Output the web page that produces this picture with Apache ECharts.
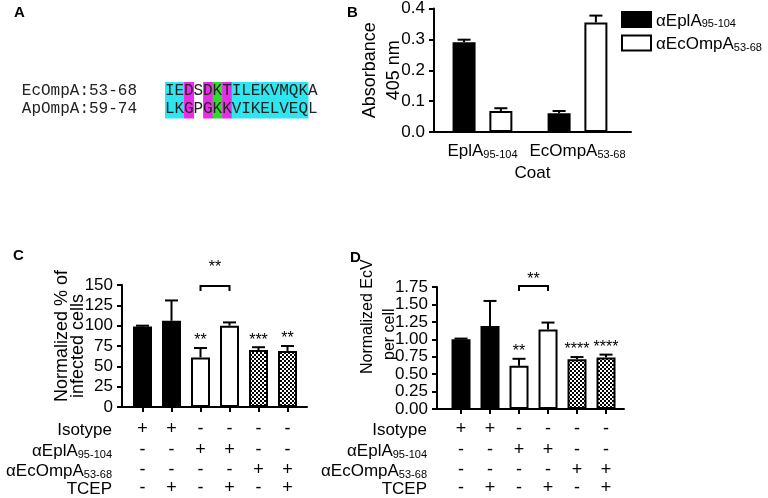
<!DOCTYPE html>
<html>
<head>
<meta charset="utf-8">
<script src="https://cdn.jsdelivr.net/npm/echarts@6/dist/echarts.min.js"></script>
<style>
  html, body { margin: 0; padding: 0; background: #fff; }
  #main { width: 768px; height: 498px; }
</style>
</head>
<body>
<div id="main"></div>
<script>
// A - peptide alignment
const seqNames = ['EcOmpA:53-68', 'ApOmpA:59-74'];
const seqs = ['IEDSDKTILEKVMQKA', 'LKGPGKKVIKELVEQL'];
const seqMarks = ['c', 'c', 'm', '', 'm', 'g', 'm', 'c', 'c', 'c', 'c', 'c', 'c', 'c', 'c', ''];

// B - ELISA, absorbance 405 nm
const coatLabels = [['EplA', '95-104'], ['EcOmpA', '53-68']];
const abNames = ['αEplA95-104', 'αEcOmpA53-68'];
const absEplA = [0.291, 0.061];
const absEplAErr = [0.008, 0.007];
const absEcOmpA = [0.068, 0.355];
const absEcOmpAErr = [0.009, 0.022];

// C, D - six conditions
const rowNames = [['Isotype', ''], ['αEplA', '95-104'], ['αEcOmpA', '53-68'], ['TCEP', '']];
const isotype = ['+', '+', '-', '-', '-', '-'];
const antiEplA = ['-', '-', '+', '+', '-', '-'];
const antiEcOmpA = ['-', '-', '-', '-', '+', '+'];
const tcep = ['-', '+', '-', '+', '-', '+'];
const fills = ['black', 'black', 'white', 'white', 'check', 'check'];

const infected = [99, 106, 61, 100, 70, 69];
const infectedErr = [1, 25, 11.5, 4, 3.5, 6];
const infectedStars = ['', '', '**', '', '***', '**'];
const infectedBracket = [2, 3, 148.8, 171.5, '**'];

const ecv = [1.0, 1.19, 0.62, 1.14, 0.715, 0.74];
const ecvErr = [0.01, 0.36, 0.1, 0.1, 0.03, 0.04];
const ecvStars = ['', '', '**', '', '****', '****'];
const ecvBracket = [2, 3, 1.765, 1.858, '**'];

const FONT = '"Liberation Sans", Arial, Helvetica, sans-serif';
const MONO = '"Liberation Mono", "DejaVu Sans Mono", monospace';

// checker pattern for the peptide-only bars
const pc = document.createElement('canvas');
pc.width = 4; pc.height = 4;
const pctx = pc.getContext('2d');
pctx.fillStyle = '#fff'; pctx.fillRect(0, 0, 4, 4);
pctx.fillStyle = '#000'; pctx.fillRect(0, 0, 2, 2); pctx.fillRect(2, 2, 2, 2);

const fillStyles = {
  black: { color: '#000', borderColor: '#000', borderWidth: 2 },
  white: { color: '#fff', borderColor: '#000', borderWidth: 2 },
  check: { color: { image: pc, repeat: 'repeat' }, borderColor: '#000', borderWidth: 2 }
};
const markColors = { c: '#2ee6f0', m: '#ec2aec', g: '#2ade2a' };

const rich = {
  m: { fontSize: 17, fontFamily: FONT, color: '#000', lineHeight: 20, verticalAlign: 'bottom' },
  s: { fontSize: 11, fontFamily: FONT, color: '#000', lineHeight: 10, verticalAlign: 'bottom' }
};
function sub(pair) {
  return '{m|' + pair[0] + '}' + (pair[1] ? '{s|' + pair[1] + '}' : '');
}

const idx = [0, 1, 2, 3, 4, 5];
const black = { color: '#000', width: 2 };

function errBars(stars, dx) {
  return function (params, api) {
    const base = api.coord([api.value(0), api.value(1)]);
    const top = api.coord([api.value(0), api.value(2)]);
    const x = base[0] + dx;
    const ch = [
      { type: 'line', shape: { x1: x, y1: base[1], x2: x, y2: top[1] }, style: { stroke: '#000', lineWidth: 2 } },
      { type: 'line', shape: { x1: x - 6.5, y1: top[1], x2: x + 6.5, y2: top[1] }, style: { stroke: '#000', lineWidth: 2 } }
    ];
    const st = stars ? stars[params.dataIndex] : '';
    if (st) {
      ch.push({ type: 'text', style: { x: x, y: top[1] - 7, text: st, fill: '#000', font: '16px ' + FONT, align: 'center', verticalAlign: 'middle' } });
    }
    return { type: 'group', children: ch };
  };
}

function bracket(params, api) {
  const p1 = api.coord([api.value(0), api.value(2)]);
  const p2 = api.coord([api.value(1), api.value(2)]);
  const t = api.coord([api.value(0), api.value(3)]);
  return {
    type: 'group',
    children: [
      { type: 'polyline', shape: { points: [[p1[0], p1[1] + 5], p1, p2, [p2[0], p2[1] + 5]] }, style: { stroke: '#000', lineWidth: 2, fill: null } },
      { type: 'text', style: { x: (p1[0] + p2[0]) / 2, y: t[1], text: api.value(4), fill: '#000', font: '16px ' + FONT, align: 'center', verticalAlign: 'middle' } }
    ]
  };
}

function renderSeq(params, api) {
  const j = api.value(0), r = api.value(1);
  const c = api.coord([j, r]);
  const s = api.size([1, 1]);
  const ch = [];
  if (seqMarks[j]) {
    ch.push({ type: 'rect', shape: { x: c[0] - s[0] / 2, y: c[1] - s[1] / 2, width: s[0] + 0.5, height: s[1] + 0.5 }, style: { fill: markColors[seqMarks[j]] } });
  }
  ch.push({ type: 'text', style: { x: c[0], y: c[1], text: seqs[r][j], fill: '#222', font: '16px ' + MONO, align: 'center', verticalAlign: 'middle' } });
  return { type: 'group', children: ch };
}

function rowAxes(grid, min, max, axisY, rowYs) {
  const signs = [isotype, antiEplA, antiEcOmpA, tcep];
  return signs.map((arr, k) => ({
    type: 'value', gridIndex: grid, min: min, max: max, position: 'bottom',
    offset: rowYs[k] - axisY,
    axisLine: { show: false, onZero: false }, axisTick: { show: false }, splitLine: { show: false },
    axisLabel: {
      customValues: idx, margin: 0, verticalAlign: 'middle', fontSize: 18, fontFamily: FONT, color: '#000',
      formatter: v => arr[Math.round(v)]
    },
    name: sub(rowNames[k]), nameLocation: 'start', nameGap: 10, nameMoveOverlap: false,
    nameTextStyle: { align: 'right', verticalAlign: 'middle', rich: rich }
  }));
}

function valueY(grid, max, interval, dec) {
  return {
    type: 'value', gridIndex: grid, min: 0, max: max, interval: interval,
    axisLine: { show: true, onZero: false, lineStyle: black },
    axisTick: { show: true, length: 5, lineStyle: black },
    splitLine: { show: false },
    axisLabel: { fontSize: 17, fontFamily: FONT, color: '#000', margin: 9, formatter: v => v.toFixed(dec) }
  };
}

function mainX(grid, min, max) {
  return {
    type: 'value', gridIndex: grid, min: min, max: max,
    axisLine: { show: true, onZero: false, lineStyle: black },
    axisTick: { show: true, customValues: idx, length: 5, lineStyle: black },
    axisLabel: { show: false }, splitLine: { show: false }
  };
}

function vText(x, y, text, size) {
  return {
    type: 'text', x: x, y: y, rotation: Math.PI / 2,
    style: { text: text, font: size + 'px ' + FONT, fill: '#000', align: 'left', verticalAlign: 'middle' }
  };
}

const chart = echarts.init(document.getElementById('main'));
chart.setOption({
  animation: false,
  backgroundColor: '#fff',
  textStyle: { fontFamily: FONT },
  title: [
    { text: 'A', left: 14, top: 5 },
    { text: 'B', left: 347, top: 5 },
    { text: 'C', left: 13, top: 248 },
    { text: 'D', left: 350, top: 250 }
  ].map(t => Object.assign(t, { padding: 0, textStyle: { fontSize: 15, fontWeight: 'bold', color: '#000', fontFamily: FONT } })),
  legend: {
    data: abNames, orient: 'vertical', left: 621, top: 11, padding: 0, icon: 'rect',
    itemWidth: 29, itemHeight: 15, itemGap: 5,
    textStyle: { rich: rich },
    formatter: n => n === abNames[0] ? sub(['αEplA', '95-104']) : sub(['αEcOmpA', '53-68'])
  },
  grid: [
    { left: 165, top: 82, width: 152.5, height: 36 },
    { left: 434, top: 8, width: 197, height: 124 },
    { left: 122, top: 285, width: 185, height: 122 },
    { left: 437, top: 287, width: 187, height: 122 }
  ],
  graphic: [
    vText(62, 402, 'Normalized % of', 18),
    vText(78, 398, 'infected cells', 18),
    vText(368, 374, 'Normalized EcV', 16),
    vText(390, 360, 'per cell', 16)
  ],
  xAxis: [
    {
      type: 'category', gridIndex: 0, data: seqs[0].split('').map((_, j) => String(j)),
      axisLine: { show: false }, axisTick: { show: false }, axisLabel: { show: false }
    },
    {
      type: 'value', gridIndex: 1, min: -0.51, max: 1.563,
      axisLine: { show: true, onZero: false, lineStyle: black },
      axisTick: { show: false }, splitLine: { show: false },
      axisLabel: { customValues: [0, 1], margin: 8, rich: rich, formatter: v => sub(coatLabels[Math.round(v)]) },
      name: 'Coat', nameLocation: 'middle', nameGap: 33, nameMoveOverlap: false,
      nameTextStyle: { fontSize: 17, fontFamily: FONT, color: '#000' }
    },
    mainX(2, -0.707, 5.672),
    ...rowAxes(2, -0.707, 5.672, 407, [429, 450, 470, 488]),
    mainX(3, -0.828, 5.62),
    ...rowAxes(3, -0.828, 5.62, 409, [429, 450, 470, 488])
  ],
  yAxis: [
    {
      type: 'category', gridIndex: 0, data: seqNames, inverse: true,
      axisLine: { show: false }, axisTick: { show: false },
      axisLabel: { interval: 0, margin: 28, fontSize: 16, fontFamily: MONO, color: '#222' }
    },
    Object.assign(valueY(1, 0.4, 0.1, 1), {
      name: 'Absorbance\n405 nm', nameLocation: 'middle', nameGap: 28, nameMoveOverlap: false,
      nameTextStyle: { fontSize: 18, fontFamily: FONT, color: '#000', lineHeight: 24 }
    }),
    valueY(2, 150, 25, 0),
    valueY(3, 1.75, 0.25, 2)
  ],
  series: [
    {
      type: 'custom', xAxisIndex: 0, yAxisIndex: 0, renderItem: renderSeq,
      data: [0, 1].flatMap(r => seqs[r].split('').map((_, j) => [j, r]))
    },
    {
      name: abNames[0], type: 'bar', xAxisIndex: 1, yAxisIndex: 1, barWidth: 23, barGap: '60%',
      itemStyle: fillStyles.black, data: absEplA.map((v, i) => [i, v])
    },
    {
      name: abNames[1], type: 'bar', xAxisIndex: 1, yAxisIndex: 1, barWidth: 23, barGap: '60%',
      itemStyle: fillStyles.white, data: absEcOmpA.map((v, i) => [i, v])
    },
    {
      type: 'custom', xAxisIndex: 1, yAxisIndex: 1, z: 3, renderItem: errBars(null, -18.4),
      data: absEplA.map((v, i) => [i, v, v + absEplAErr[i]])
    },
    {
      type: 'custom', xAxisIndex: 1, yAxisIndex: 1, z: 3, renderItem: errBars(null, 18.4),
      data: absEcOmpA.map((v, i) => [i, v, v + absEcOmpAErr[i]])
    },
    {
      type: 'bar', xAxisIndex: 2, yAxisIndex: 2, barWidth: 19,
      data: infected.map((v, i) => ({ value: [i, v], itemStyle: fillStyles[fills[i]] }))
    },
    {
      type: 'custom', xAxisIndex: 2, yAxisIndex: 2, z: 3, renderItem: errBars(infectedStars, 0),
      data: infected.map((v, i) => [i, v, v + infectedErr[i]])
    },
    {
      type: 'custom', xAxisIndex: 2, yAxisIndex: 2, z: 3, renderItem: bracket,
      data: [infectedBracket]
    },
    {
      type: 'bar', xAxisIndex: 7, yAxisIndex: 3, barWidth: 19,
      data: ecv.map((v, i) => ({ value: [i, v], itemStyle: fillStyles[fills[i]] }))
    },
    {
      type: 'custom', xAxisIndex: 7, yAxisIndex: 3, z: 3, renderItem: errBars(ecvStars, 0),
      data: ecv.map((v, i) => [i, v, v + ecvErr[i]])
    },
    {
      type: 'custom', xAxisIndex: 7, yAxisIndex: 3, z: 3, renderItem: bracket,
      data: [ecvBracket]
    }
  ]
});
</script>
</body>
</html>
